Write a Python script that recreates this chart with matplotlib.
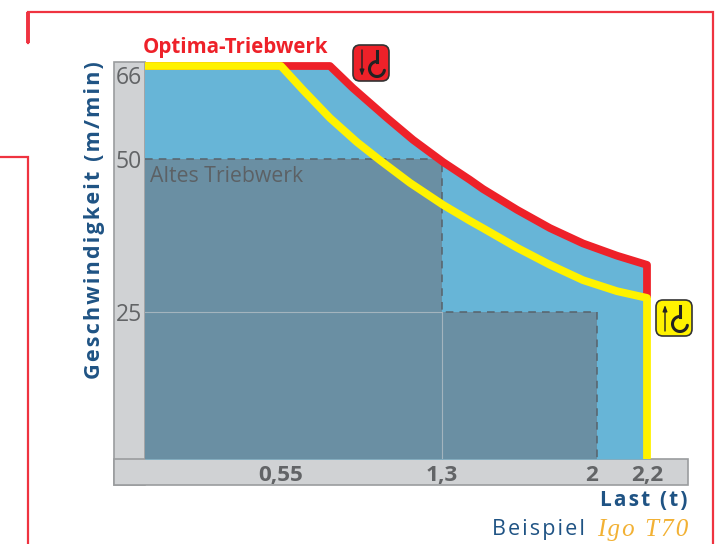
import numpy as np
import matplotlib
matplotlib.use("Agg")
import matplotlib.pyplot as plt
from matplotlib.patches import Rectangle, FancyBboxPatch
from matplotlib.transforms import ScaledTranslation

# valeurs
last_opt = [0, 0.778, 0.885, 1.044, 1.165, 1.305, 1.426, 1.485, 1.639, 1.788, 1.937, 2.08, 2.2, 2.2]
vit_opt = [66, 66, 62.2, 57.06, 53.3, 49.5, 46.6, 45.1, 41.7, 38.7, 36.2, 34.2, 32.7, 27.3]
last_std = [0, 0.55, 0.652, 0.778, 0.904, 1.011, 1.151, 1.305, 1.426, 1.485, 1.639, 1.788, 1.937, 2.08, 2.2, 2.2]
vit_std = [66, 66, 61.9, 57.06, 52.9, 49.8, 46.1, 42.5, 39.9, 38.7, 35.5, 32.7, 30.2, 28.4, 27.3, 0]
last_alt = [0, 1.3, 1.3, 2, 2]
vit_alt = [50, 50, 25, 25, 0]
xticks = [0.55, 1.3, 2, 2.2]
xlabels = ["0,55", "1,3", "2", "2,2"]
yticks = [25, 50, 66]
ylabels = ["25", "50", "66"]

# l'axe du dessin n'est pas tout a fait lineaire : graduation -> pixel
x_val = [0, 0.55, 1.3, 2, 2.2, 2.364]
x_px = [145, 281, 442, 597, 647, 688]
y_val = [0, 25, 50, 66, 66.69]
y_px = [0, 147, 300, 393, 397]

ROUGE = "#ee2129"
JAUNE = "#fff200"
BLEU = "#67b5d7"
GRIS_BLEU = "#6a8fa3"
GRIS = "#d0d2d4"
TEXTE = "#626466"
MARINE = "#1f5384"
HS = "\u200a"


def espace(txt, n=1):
    return (HS * n).join(txt)


fig = plt.figure(figsize=(7.16, 5.44), dpi=100)

# calque en pixels pour le cadre, les bandes et les pictos
fond = fig.add_axes([0, 0, 1, 1], zorder=0)
fond.set_xlim(0, 716)
fond.set_ylim(544, 0)
fond.axis("off")

fond.plot([0, 28, 28], [157, 157, 544], color="#ef3340", lw=1.6, solid_joinstyle="miter")
fond.plot([28, 28, 713, 713], [43, 12, 12, 544], color="#ef3340", lw=1.6, solid_joinstyle="miter")
fond.plot([28, 28], [12, 43], color="#ef3340", lw=2.8, solid_capstyle="butt")

fond.add_patch(Rectangle((114, 62), 31, 423, fc=GRIS, ec="#9a9c9e", lw=1.2))
fond.add_patch(Rectangle((114, 459), 574, 26, fc=GRIS, ec="#9a9c9e", lw=1.2))

ax = fig.add_axes([145 / 716, (544 - 459) / 544, (688 - 145) / 716, 397 / 544], zorder=1)
ax.patch.set_alpha(0)
ax.set_xscale("function", functions=(lambda v: np.interp(v, x_val, x_px),
                                     lambda p: np.interp(p, x_px, x_val)))
ax.set_yscale("function", functions=(lambda v: np.interp(v, y_val, y_px),
                                     lambda p: np.interp(p, y_px, y_val)))
ax.set_xlim(0, 2.364)
ax.set_ylim(0, 66.69)
for s in ax.spines.values():
    s.set_visible(False)

ax.fill_between(last_opt[:-1], vit_opt[:-1], 0, color=BLEU, lw=0, zorder=1)
ax.fill_between([0, 0.78], [66.6, 66.6], 0, color=BLEU, lw=0, zorder=1)
ax.fill_between(last_alt, vit_alt, 0, color=GRIS_BLEU, lw=0, zorder=2)

# lignes de rappel
ax.plot([0, 1.3], [25, 25], color="#a3b4be", lw=0.8, zorder=3)
ax.plot([1.3, 1.3], [0, 25], color="#a3b4be", lw=0.8, zorder=3)
ax.plot(last_alt, vit_alt, color="#58626a", lw=1.1, ls=(0, (5, 4)), zorder=3)

ax.plot(last_opt, vit_opt, color=ROUGE, lw=5.6, solid_joinstyle="round",
        solid_capstyle="butt", zorder=4, clip_on=False)
ax.plot(last_std, vit_std, color=JAUNE, lw=5.6, solid_joinstyle="round",
        solid_capstyle="butt", zorder=5, clip_on=False)

ax.set_xticks(xticks, xlabels)
ax.set_yticks(yticks, ylabels)
ax.tick_params(length=0)
ax.tick_params(axis="x", pad=4, labelsize=16.2, labelcolor=TEXTE)
ax.tick_params(axis="y", pad=2, labelsize=16.5, labelcolor=TEXTE)
for lab in ax.get_xticklabels():
    lab.set_fontfamily("Open Sans")
    lab.set_fontweight("bold")
for lab in ax.get_yticklabels():
    lab.set_fontfamily("Open Sans")
ax.get_yticklabels()[2].set_va("top")
# le "2" est un peu decale a gauche sur l'original
lab2 = ax.get_xticklabels()[2]
lab2.set_transform(lab2.get_transform() + ScaledTranslation(-5 / 100, 0, fig.dpi_scale_trans))

ax.text(0.02, 47.1, "Altes Triebwerk", color="#5c6165", fontsize=15.3,
        family="Open Sans", va="center")


# pictos crochet + fleche
def picto(x0, y0, fc, haut):
    fond.add_patch(FancyBboxPatch((x0 + 4, y0 + 4), 28, 28, boxstyle="round,pad=4,rounding_size=7",
                                  fc=fc, ec="#333333", lw=1.2, zorder=6))
    ax_f = x0 + 9
    if haut:
        fond.annotate("", xy=(ax_f, y0 + 5), xytext=(ax_f, y0 + 31), zorder=7,
                      arrowprops=dict(arrowstyle="-|>,head_width=0.13,head_length=0.35", color="#222222", lw=1, shrinkA=0, shrinkB=0))
    else:
        fond.annotate("", xy=(ax_f, y0 + 31), xytext=(ax_f, y0 + 5), zorder=7,
                      arrowprops=dict(arrowstyle="-|>,head_width=0.13,head_length=0.35", color="#222222", lw=1, shrinkA=0, shrinkB=0))
    t = np.radians(np.linspace(90, 350, 40))
    cx, cy = x0 + 24, y0 + 24
    hx = cx + 7.5 * np.cos(t)
    hy = cy - 7.5 * np.sin(t)
    fond.plot(hx, hy, color="#222222", lw=2.2, zorder=7, solid_capstyle="round")
    fond.plot([cx, cx], [y0 + 6, y0 + 17], color="#222222", lw=2.2, zorder=7)


picto(353, 45, ROUGE, False)
picto(656, 300, "#fff200", True)

fond.text(143, 47, "Optima-Triebwerk", color=ROUGE, fontsize=14.8, family="Open Sans",
          fontweight="bold", va="center", ha="left")
fond.text(95, 220, espace("Geschwindigkeit (m/min)"), color=MARINE, fontsize=15.6, rotation=90,
          family=["Open Sans", "DejaVu Sans"], fontweight="bold", va="center", ha="center")
fond.text(688, 501, espace("Last (t)"), color=MARINE, fontsize=15, family=["Open Sans", "DejaVu Sans"],
          fontweight="bold", va="center", ha="right")
fond.text(492, 530, espace("Beispiel"), color=MARINE, fontsize=15.5, family=["Open Sans", "DejaVu Sans"],
          va="center", ha="left")
fond.text(688, 530, espace("Igo T70"), color="#f2b134", fontsize=18, family=["Liberation Serif", "DejaVu Serif"],
          style="italic", va="center", ha="right")

fig.savefig("out.png", dpi=100)
